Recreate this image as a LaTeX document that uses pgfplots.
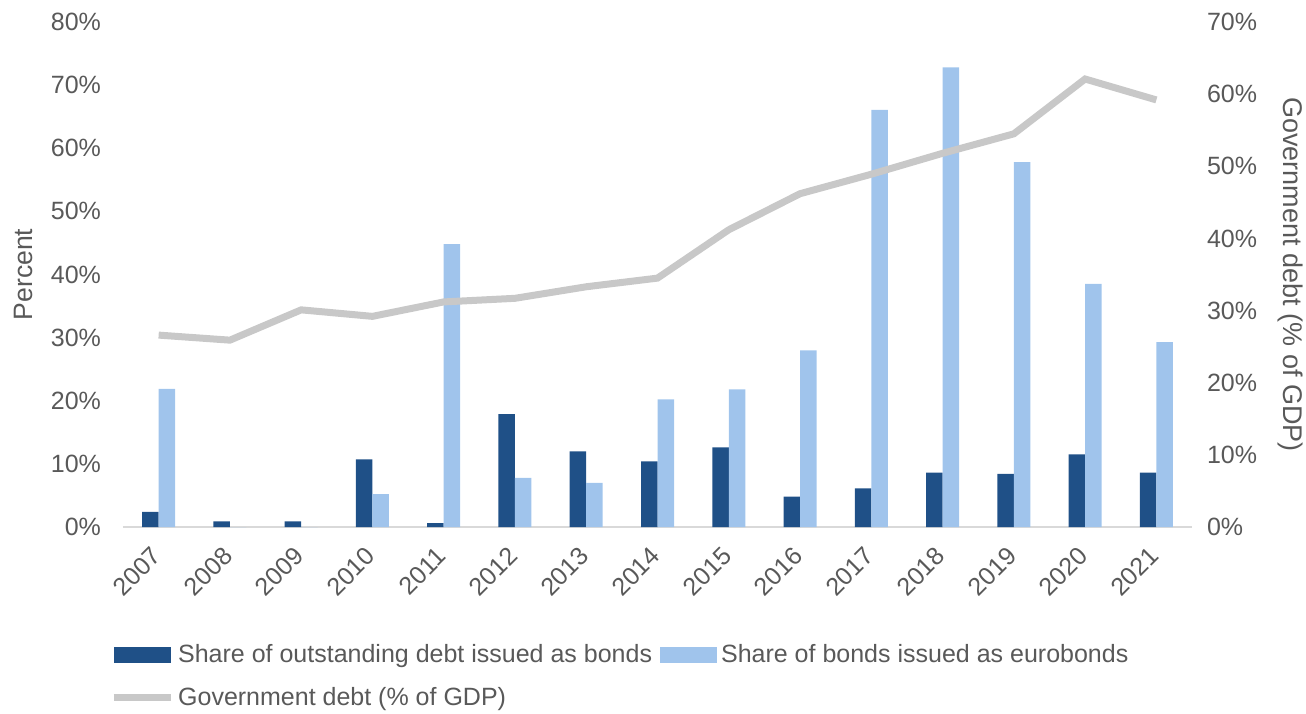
\documentclass[border=0pt]{standalone}
\usepackage{pgfplots}
\pgfplotsset{compat=1.18}
\usepackage{fontspec}
\setmainfont{Liberation Sans}
\definecolor{darkb}{RGB}{31,80,135}
\definecolor{lightb}{RGB}{160,196,236}
\definecolor{lgray}{RGB}{200,200,200}
\definecolor{txt}{RGB}{89,89,89}
\definecolor{axgray}{RGB}{217,217,217}
\begin{document}
\begin{tikzpicture}[font=\fontsize{12.5}{15}\selectfont]
\path[use as bounding box] (-61.5pt,-93pt) rectangle (591.5pt,263.5pt);
\begin{axis}[
  at={(0,0)}, anchor=south west, scale only axis,
  width=534.5pt, height=252.5pt,
  xmin=-0.5, xmax=14.5, ymin=0, ymax=80,
  ybar=0pt, bar width=8.25pt,
  axis x line*=bottom, axis y line*=left,
  x axis line style={axgray, line width=1pt, -},
  y axis line style={draw=none},
  major tick length=0pt,
  xtick={0,...,14},
  xticklabels={2007,2008,2009,2010,2011,2012,2013,2014,2015,2016,2017,2018,2019,2020,2021},
  xticklabel style={xshift=1.5pt, yshift=-10pt, rotate=45, anchor=east, text=txt},
  ytick={0,10,...,80},
  yticklabel={\pgfmathprintnumber{\tick}\%},
  yticklabel style={text=txt, xshift=-7.5pt},
  /pgf/number format/assume math mode=true,
  ylabel={Percent},
  ylabel style={at={(axis description cs:-0.0935,0.5)}, anchor=center, text=txt, font=\fontsize{13.3}{16}\selectfont},
  legend columns=2,
  legend style={at={(axis description cs:-0.018,-0.215)}, anchor=north west, draw=none, fill=none,
    text=txt, font=\fontsize{12.5}{15}\selectfont,
    /tikz/every even column/.append style={column sep=2pt},
    row sep=7pt},
  legend cell align=left,
]
\addplot[fill=darkb, draw=none, area legend,
  legend image code/.code={\fill[darkb] (0pt,-4pt) rectangle (28.5pt,4pt);}]
  coordinates {(0,2.4) (1,0.9) (2,0.9) (3,10.7) (4,0.6) (5,17.9) (6,12.0) (7,10.4) (8,12.6) (9,4.8) (10,6.1) (11,8.6) (12,8.4) (13,11.5) (14,8.6)};
\addlegendentry{Share of outstanding debt issued as bonds}
\addplot[fill=lightb, draw=none, area legend,
  legend image code/.code={\fill[lightb] (0pt,-4pt) rectangle (28.5pt,4pt);}]
  coordinates {(0,21.9) (1,0) (2,0) (3,5.2) (4,44.8) (5,7.8) (6,7.0) (7,20.2) (8,21.8) (9,28.0) (10,66.1) (11,72.8) (12,57.8) (13,38.5) (14,29.3)};
\addlegendentry{Share of bonds issued as eurobonds}
\addlegendimage{legend image code/.code={\draw[lgray, line width=3.5pt] (0pt,0pt) -- (28.5pt,0pt);}}
\addlegendentry{Government debt (\% of GDP)}
\end{axis}
\begin{axis}[
  at={(0,0)}, anchor=south west, scale only axis,
  width=534.5pt, height=252.5pt,
  xmin=-0.5, xmax=14.5, ymin=0, ymax=70,
  axis x line=none, axis y line*=right,
  y axis line style={draw=none},
  major tick length=0pt,
  ytick={0,10,...,70},
  yticklabel={\pgfmathprintnumber{\tick}\%},
  yticklabel style={text=txt, xshift=4pt},
  /pgf/number format/assume math mode=true,
  ylabel={Government debt (\% of GDP)},
  ylabel style={at={(axis description cs:1.0917,0.5)}, anchor=center, rotate=180, text=txt, font=\fontsize{13.5}{16}\selectfont},
]
\addplot[lgray, line width=3.5pt] coordinates {(0,26.6) (1,25.9) (2,30.1) (3,29.2) (4,31.2) (5,31.7) (6,33.3) (7,34.5) (8,41.2) (9,46.2) (10,48.9) (11,51.8) (12,54.5) (13,62.1) (14,59.2)};
\end{axis}
\end{tikzpicture}
\end{document}
